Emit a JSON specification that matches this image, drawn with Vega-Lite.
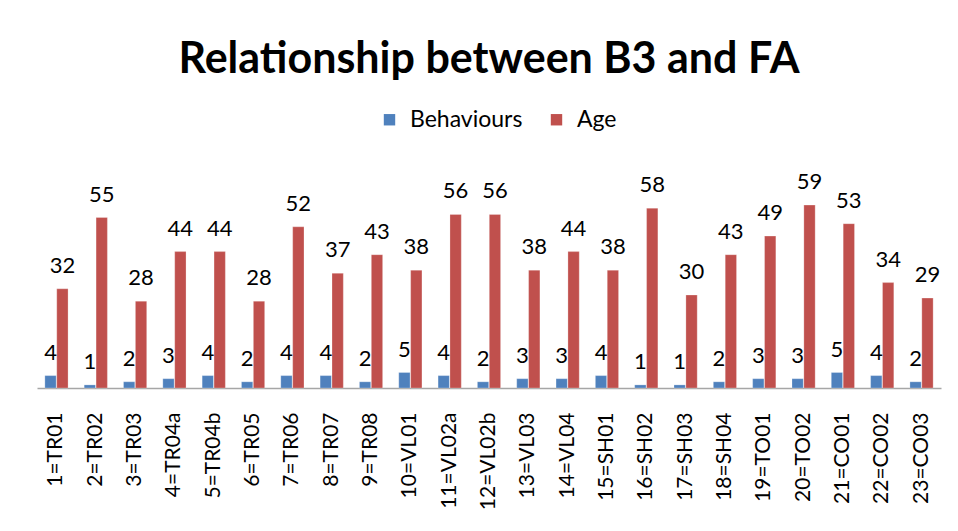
{
  "$schema": "https://vega.github.io/schema/vega-lite/v6.json",
  "width": 904,
  "height": 217,
  "autosize": "none",
  "padding": {"left": 37, "top": 171, "right": 17, "bottom": 143},
  "background": "white",
  "config": {"view": {"stroke": null}},
  "title": {
    "text": "Relationship between B3 and FA",
    "font": "Lato",
    "fontSize": 43,
    "fontWeight": "bold",
    "color": "#000000",
    "anchor": "middle",
    "offset": 26
  },
  "data": {
    "values": [
      {"site": "1=TR01", "series": "Behaviours", "value": 4},
      {"site": "1=TR01", "series": "Age", "value": 32},
      {"site": "2=TR02", "series": "Behaviours", "value": 1},
      {"site": "2=TR02", "series": "Age", "value": 55},
      {"site": "3=TR03", "series": "Behaviours", "value": 2},
      {"site": "3=TR03", "series": "Age", "value": 28},
      {"site": "4=TR04a", "series": "Behaviours", "value": 3},
      {"site": "4=TR04a", "series": "Age", "value": 44},
      {"site": "5=TR04b", "series": "Behaviours", "value": 4},
      {"site": "5=TR04b", "series": "Age", "value": 44},
      {"site": "6=TR05", "series": "Behaviours", "value": 2},
      {"site": "6=TR05", "series": "Age", "value": 28},
      {"site": "7=TR06", "series": "Behaviours", "value": 4},
      {"site": "7=TR06", "series": "Age", "value": 52},
      {"site": "8=TR07", "series": "Behaviours", "value": 4},
      {"site": "8=TR07", "series": "Age", "value": 37},
      {"site": "9=TR08", "series": "Behaviours", "value": 2},
      {"site": "9=TR08", "series": "Age", "value": 43},
      {"site": "10=VL01", "series": "Behaviours", "value": 5},
      {"site": "10=VL01", "series": "Age", "value": 38},
      {"site": "11=VL02a", "series": "Behaviours", "value": 4},
      {"site": "11=VL02a", "series": "Age", "value": 56},
      {"site": "12=VL02b", "series": "Behaviours", "value": 2},
      {"site": "12=VL02b", "series": "Age", "value": 56},
      {"site": "13=VL03", "series": "Behaviours", "value": 3},
      {"site": "13=VL03", "series": "Age", "value": 38},
      {"site": "14=VL04", "series": "Behaviours", "value": 3},
      {"site": "14=VL04", "series": "Age", "value": 44},
      {"site": "15=SH01", "series": "Behaviours", "value": 4},
      {"site": "15=SH01", "series": "Age", "value": 38},
      {"site": "16=SH02", "series": "Behaviours", "value": 1},
      {"site": "16=SH02", "series": "Age", "value": 58},
      {"site": "17=SH03", "series": "Behaviours", "value": 1},
      {"site": "17=SH03", "series": "Age", "value": 30},
      {"site": "18=SH04", "series": "Behaviours", "value": 2},
      {"site": "18=SH04", "series": "Age", "value": 43},
      {"site": "19=TO01", "series": "Behaviours", "value": 3},
      {"site": "19=TO01", "series": "Age", "value": 49},
      {"site": "20=TO02", "series": "Behaviours", "value": 3},
      {"site": "20=TO02", "series": "Age", "value": 59},
      {"site": "21=CO01", "series": "Behaviours", "value": 5},
      {"site": "21=CO01", "series": "Age", "value": 53},
      {"site": "22=CO02", "series": "Behaviours", "value": 4},
      {"site": "22=CO02", "series": "Age", "value": 34},
      {"site": "23=CO03", "series": "Behaviours", "value": 2},
      {"site": "23=CO03", "series": "Age", "value": 29}
    ]
  },
  "encoding": {
    "x": {
      "field": "site",
      "type": "nominal",
      "sort": null,
      "scale": {"paddingInner": 0.41, "paddingOuter": 0.2},
      "axis": {
        "title": null,
        "labelAngle": -90,
        "labelFont": "Lato",
        "labelFontSize": 21,
        "labelColor": "#000000",
        "labelPadding": 24,
        "ticks": false,
        "domainColor": "#a6a6a6",
        "domainWidth": 1.5,
        "labelBaseline": "middle",
        "labelAlign": "right"
      }
    },
    "xOffset": {
      "field": "series",
      "type": "nominal",
      "sort": ["Behaviours", "Age"],
      "scale": {"paddingInner": 0.05}
    },
    "y": {
      "field": "value",
      "type": "quantitative",
      "scale": {"domain": [0, 70]},
      "axis": null
    }
  },
  "layer": [
    {
      "mark": {"type": "bar", "stroke": "white", "strokeOpacity": 0.5, "strokeWidth": 0.5},
      "encoding": {
        "color": {
          "field": "series",
          "type": "nominal",
          "sort": ["Behaviours", "Age"],
          "scale": {"domain": ["Behaviours", "Age"], "range": ["#4F81BD", "#C0504D"]},
          "legend": {
            "title": null,
            "orient": "none",
            "direction": "horizontal",
            "legendX": 341,
            "legendY": -63,
            "symbolType": "square",
            "symbolSize": 130,
            "symbolStrokeWidth": 0,
            "labelFont": "Lato",
            "labelFontSize": 23,
            "labelColor": "#000000",
            "columnPadding": 22,
            "labelOffset": 9
          }
        }
      }
    },
    {
      "mark": {"type": "text", "font": "Lato", "fontSize": 22, "color": "#000000", "baseline": "bottom", "dy": -11},
      "encoding": {
        "text": {"field": "value", "type": "quantitative"}
      }
    }
  ]
}
